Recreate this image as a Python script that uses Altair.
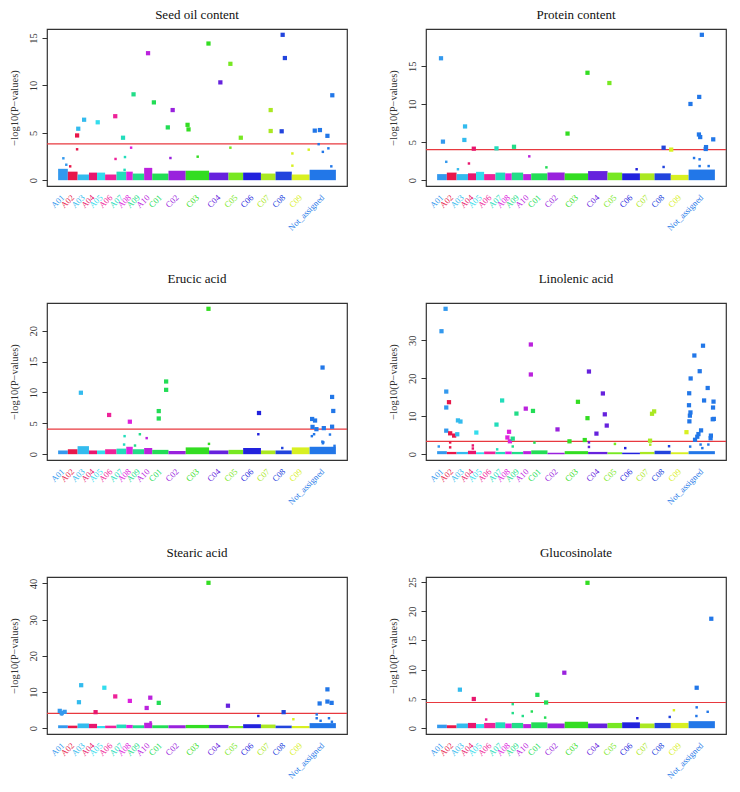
import altair as alt
import pandas as pd

SERIF = "Liberation Serif"

CHROMS = ["A01", "A02", "A03", "A04", "A05", "A06", "A07", "A08", "A09", "A10",
          "C01", "C02", "C03", "C04", "C05", "C06", "C07", "C08", "C09", "Not_assigned"]
CHROM_LEN = [10, 10, 11.7, 8.3, 8.3, 11.7, 10, 6.7, 11.7, 8.3,
             16.7, 17.7, 24, 20, 15, 18.3, 15, 16.7, 18.3, 27]
CHROM_COLORS = ["#3399ee", "#e8174a", "#33bbee", "#e8176e", "#33dded", "#ee2299",
                "#22ddbb", "#dd22dd", "#22dd88", "#bb22dd", "#22dd55", "#9922dd",
                "#33dd22", "#6622dd", "#77e822", "#2222dd", "#aae822", "#2244dd",
                "#d8f022", "#2277e8"]

# ---------- Seed oil content ----------
OIL_SIG = [("A02", 19.5, 4.72), ("A03", 20.7, 5.43), ("A03", 26.7, 6.38), ("A05", 40.7, 6.11),
           ("A06", 58.7, 6.75), ("A07", 66.7, 4.48), ("A09", 77.5, 9.06), ("A10", 92.4, 13.4),
           ("C01", 98.4, 8.21), ("C01", 112.7, 5.57), ("C02", 117.7, 7.40), ("C03", 133.0, 5.84),
           ("C03", 134.0, 5.36), ("C03", 154.5, 14.42), ("C04", 166.7, 10.32), ("C05", 177.0, 12.28),
           ("C05", 187.7, 4.48), ("C07", 218.4, 7.40), ("C07", 218.4, 5.19), ("C08", 229.7, 5.16),
           ("C08", 230.7, 15.34), ("C08", 233.0, 12.89), ("Not_assigned", 263.7, 5.23),
           ("Not_assigned", 269.0, 5.29), ("Not_assigned", 276.7, 4.68), ("Not_assigned", 281.7, 8.96)]
OIL_MINOR = [("A01", 5.4, 2.31), ("A01", 8.4, 1.63), ("A02", 12.4, 1.46), ("A02", 19.5, 3.26),
             ("A06", 59.0, 2.24), ("A07", 68.7, 2.44), ("A07", 68.3, 1.09), ("A08", 75.0, 3.43),
             ("C02", 115.4, 2.34), ("C03", 143.4, 2.48), ("C05", 177.0, 3.43), ("C09", 240.7, 2.82),
             ("C09", 240.7, 1.53), ("C09", 257.5, 3.22), ("Not_assigned", 267.7, 3.80),
             ("Not_assigned", 272.0, 2.99), ("Not_assigned", 277.7, 3.36), ("Not_assigned", 280.7, 1.46)]
OIL_BAND = [1.2, 0.9, 0.6, 0.8, 0.8, 0.6, 0.9, 0.9, 0.7, 1.3, 0.7, 1.0, 1.0, 0.8, 0.8, 0.8, 0.7, 0.9, 0.6, 1.1]
OIL_THRESHOLD = 3.83
OIL_TICKS = [0, 5, 10, 15]

# ---------- Protein content ----------
PROT_SIG = [("A01", 4.0, 16.06), ("A01", 6.0, 5.08), ("A03", 28.7, 7.08), ("A03", 28.0, 5.30),
            ("A04", 37.7, 4.15), ("A07", 61.0, 4.19), ("A09", 79.0, 4.40), ("C03", 134.0, 6.14),
            ("C03", 154.5, 14.15), ("C05", 177.0, 12.80), ("C08", 232.7, 4.28), ("C09", 240.5, 4.03),
            ("Not_assigned", 260.3, 10.04), ("Not_assigned", 269.3, 10.97), ("Not_assigned", 272.0, 19.15),
            ("Not_assigned", 269.0, 6.02), ("Not_assigned", 270.3, 5.68), ("Not_assigned", 276.3, 4.36),
            ("Not_assigned", 276.0, 4.11), ("Not_assigned", 283.7, 5.38)]
PROT_MINOR = [("A01", 9.4, 2.42), ("A03", 21.4, 1.44), ("A04", 32.7, 2.20), ("A10", 94.7, 3.14),
              ("C01", 112.3, 1.69), ("C06", 205.0, 1.44), ("C08", 232.7, 1.74), ("Not_assigned", 264.0, 2.92),
              ("Not_assigned", 269.7, 2.75), ("Not_assigned", 269.7, 1.86), ("Not_assigned", 279.0, 1.86)]
PROT_BAND = [0.8, 1.0, 0.8, 0.9, 1.1, 0.8, 1.0, 0.9, 1.0, 0.8, 0.9, 1.0, 0.9, 1.2, 1.0, 0.9, 0.9, 0.9, 0.7, 1.4]
PROT_THRESHOLD = 4.02
PROT_TICKS = [0, 5, 10, 15]

# ---------- Erucic acid ----------
ERU_SIG = [("A03", 23.4, 9.95), ("A06", 52.4, 6.35), ("A08", 73.7, 5.26), ("C01", 103.4, 6.98),
           ("C01", 103.4, 5.78), ("C01", 111.0, 11.77), ("C01", 111.0, 10.42), ("C03", 154.5, 23.54),
           ("C06", 206.4, 6.67), ("Not_assigned", 261.0, 5.70), ("Not_assigned", 264.0, 5.45),
           ("Not_assigned", 261.4, 4.42), ("Not_assigned", 265.4, 4.05), ("Not_assigned", 271.7, 14.03),
           ("Not_assigned", 273.0, 4.22), ("Not_assigned", 281.5, 9.27), ("Not_assigned", 282.7, 7.00),
           ("Not_assigned", 281.5, 4.45)]
ERU_MINOR = [("A07", 68.3, 2.92), ("A07", 67.8, 1.56), ("A09", 84.0, 3.23), ("A09", 79.0, 1.40),
             ("A10", 91.0, 2.60), ("C03", 155.0, 1.67), ("C06", 205.7, 3.23), ("C08", 230.3, 1.00),
             ("Not_assigned", 260.7, 2.92), ("Not_assigned", 263.0, 3.23), ("Not_assigned", 272.0, 1.77),
             ("Not_assigned", 271.5, 2.03), ("Not_assigned", 279.3, 3.18), ("Not_assigned", 284.0, 1.35),
             ("Not_assigned", 272.5, 1.92)]
ERU_BAND = [0.6, 0.8, 1.3, 0.6, 0.6, 0.8, 0.9, 1.2, 0.8, 1.0, 0.7, 0.5, 1.1, 0.6, 0.7, 1.0, 0.6, 0.6, 1.1, 1.2]
ERU_THRESHOLD = 4.06
ERU_TICKS = [0, 5, 10, 15, 20]

# ---------- Linolenic acid ----------
LIN_SIG = [("A01", 4.5, 32.4), ("A01", 8.7, 38.3), ("A01", 9.4, 16.5), ("A01", 9.4, 12.3), ("A01", 9.4, 6.2),
           ("A02", 12.2, 13.7), ("A02", 13.4, 5.5), ("A02", 17.5, 4.9), ("A03", 20.7, 5.25), ("A03", 21.4, 8.9),
           ("A03", 24.0, 8.6), ("A05", 40.3, 5.7), ("A07", 61.0, 7.8), ("A07", 66.8, 14.15), ("A08", 73.9, 5.9),
           ("A08", 72.2, 4.4), ("A08", 74.8, 3.4), ("A09", 77.7, 4.1), ("A09", 81.5, 10.7), ("A10", 91.1, 12.0),
           ("A10", 96.3, 28.9), ("A10", 96.3, 21.0), ("C01", 98.5, 11.4), ("C02", 123.7, 6.53),
           ("C03", 136.0, 3.39), ("C03", 144.7, 13.8), ("C03", 151.7, 3.73), ("C03", 154.5, 9.49),
           ("C04", 156.0, 21.78), ("C04", 163.7, 5.42), ("C04", 170.3, 16.0), ("C04", 172.3, 10.5),
           ("C04", 174.3, 7.54), ("C07", 218.8, 3.56), ("C07", 220.8, 10.65), ("C07", 223.0, 11.27),
           ("C09", 256.2, 5.8), ("Not_assigned", 258.8, 12.9), ("Not_assigned", 259.0, 16.05),
           ("Not_assigned", 259.7, 10.15), ("Not_assigned", 260.3, 11.0), ("Not_assigned", 259.2, 8.65),
           ("Not_assigned", 260.5, 19.95), ("Not_assigned", 264.3, 26.0), ("Not_assigned", 265.0, 3.8),
           ("Not_assigned", 267.3, 4.6), ("Not_assigned", 268.5, 5.3), ("Not_assigned", 271.2, 6.27),
           ("Not_assigned", 269.8, 21.86), ("Not_assigned", 273.2, 28.58), ("Not_assigned", 274.3, 14.15),
           ("Not_assigned", 278.0, 17.44), ("Not_assigned", 281.0, 4.2), ("Not_assigned", 281.3, 4.9),
           ("Not_assigned", 283.5, 12.29), ("Not_assigned", 284.0, 13.85), ("Not_assigned", 284.3, 9.3),
           ("Not_assigned", 283.2, 9.2)]
LIN_MINOR = [("A01", 1.7, 2.03), ("A02", 13.4, 3.1), ("A02", 13.4, 1.8), ("A04", 36.7, 2.3), ("A04", 36.7, 1.5),
             ("A07", 61.7, 1.27), ("A09", 77.7, 2.03), ("C01", 100.0, 3.05), ("C04", 156.0, 3.1),
             ("C04", 156.0, 1.9), ("C05", 182.7, 2.7), ("C06", 193.3, 1.6), ("C07", 219.0, 2.5),
             ("C08", 238.3, 2.1), ("Not_assigned", 270.7, 2.54), ("Not_assigned", 278.7, 2.54),
             ("Not_assigned", 260.0, 2.0), ("Not_assigned", 272.5, 1.6)]
LIN_BAND = [0.8, 0.6, 0.6, 0.9, 0.5, 0.7, 0.6, 0.7, 0.6, 0.8, 1.0, 0.4, 0.8, 0.6, 0.5, 0.4, 0.6, 0.9, 0.5, 0.8]
LIN_THRESHOLD = 3.39
LIN_TICKS = [0, 10, 20, 30]

# ---------- Stearic acid ----------
STE_SIG = [("A01", 1.7, 4.79), ("A01", 3.7, 4.17), ("A01", 6.7, 4.52), ("A03", 21.4, 7.18), ("A03", 23.7, 11.88),
           ("A04", 38.5, 4.43), ("A05", 47.5, 11.18), ("A06", 58.7, 8.78), ("A08", 73.7, 7.54), ("A10", 91.0, 5.59),
           ("A10", 94.7, 8.43), ("C01", 103.4, 7.00), ("C03", 154.5, 40.18), ("C04", 174.5, 6.21),
           ("C08", 231.7, 4.43), ("Not_assigned", 268.7, 6.83), ("Not_assigned", 276.7, 10.73),
           ("Not_assigned", 276.7, 7.36), ("Not_assigned", 281.0, 7.00)]
STE_MINOR = [("A01", 3.7, 3.8), ("A10", 95.0, 1.6), ("C06", 205.7, 3.37), ("C09", 241.7, 2.48),
             ("Not_assigned", 265.7, 3.8), ("Not_assigned", 265.7, 2.75), ("Not_assigned", 269.7, 2.04),
             ("Not_assigned", 278.3, 2.75), ("Not_assigned", 281.3, 1.77)]
STE_BAND = [0.8, 0.7, 1.3, 1.2, 0.6, 0.7, 1.0, 0.9, 0.8, 1.5, 0.8, 0.8, 0.9, 0.9, 0.6, 1.1, 1.0, 0.7, 0.6, 1.4]
STE_THRESHOLD = 4.08
STE_TICKS = [0, 10, 20, 30, 40]

# ---------- Glucosinolate ----------
GLU_SIG = [("A03", 23.4, 6.58), ("A04", 37.7, 4.99), ("C01", 103.0, 5.70), ("C01", 112.0, 4.39),
           ("C02", 130.7, 9.48), ("C03", 154.5, 24.84), ("Not_assigned", 266.7, 6.91), ("Not_assigned", 281.7, 18.70)]
GLU_MINOR = [("A09", 77.7, 4.11), ("A09", 77.7, 2.58), ("A09", 88.0, 2.08), ("C01", 97.3, 2.85),
             ("C01", 111.0, 1.81), ("A06", 50.4, 1.48), ("C06", 205.7, 1.70), ("C08", 239.0, 1.92),
             ("C09", 243.3, 3.07), ("Not_assigned", 266.7, 3.56), ("Not_assigned", 266.4, 2.08),
             ("Not_assigned", 278.0, 2.80)]
GLU_BAND = [0.6, 0.5, 0.8, 0.9, 0.7, 0.9, 1.0, 0.8, 0.9, 0.7, 1.0, 0.8, 1.1, 0.8, 0.9, 1.0, 0.8, 0.9, 0.9, 1.2]
GLU_THRESHOLD = 4.39
GLU_TICKS = [0, 5, 10, 15, 20, 25]

W, H = 300, 157
RED = "#e8393f"

starts = []
acc = 0.0
for L in CHROM_LEN:
    starts.append(acc)
    acc += L
TOTAL = acc
ends = [s + L for s, L in zip(starts, CHROM_LEN)]
centers = [s + L / 2 for s, L in zip(starts, CHROM_LEN)]


def panel(title, sig, minor, band, thr, ticks, title_offset):
    ymax = max([v for _, _, v in sig] + [v for _, _, v in minor] + [thr])
    xs = alt.Scale(domain=[-0.04 * TOTAL, 1.04 * TOTAL], nice=False, zero=False)
    ys = alt.Scale(domain=[-0.04 * ymax, 1.04 * ymax], nice=False, zero=False)
    cs = alt.Scale(domain=CHROMS, range=CHROM_COLORS)
    yaxis = alt.Axis(values=ticks, title="\u2212log10(P\u2212values)")
    col = alt.Color("chrom:N", scale=cs, legend=None)

    band_df = pd.DataFrame({"chrom": CHROMS, "start": starts, "end": ends,
                            "h": band, "base": [0] * len(CHROMS)})
    sig_df = pd.DataFrame(sig, columns=["chrom", "pos", "y"])
    minor_df = pd.DataFrame(minor, columns=["chrom", "pos", "y"])
    lab_df = pd.DataFrame({"chrom": CHROMS, "center": centers})
    thr_df = pd.DataFrame({"y": [thr]})

    bands = alt.Chart(band_df).mark_rect().encode(
        x=alt.X("start:Q", scale=xs, axis=None), x2="end:Q",
        y=alt.Y("base:Q", scale=ys, axis=yaxis), y2="h:Q", color=col)
    rule = alt.Chart(thr_df).mark_rule(color=RED, strokeWidth=1.2).encode(
        y=alt.Y("y:Q", scale=ys, axis=yaxis))
    minor_pts = alt.Chart(minor_df).mark_square(size=6, opacity=1).encode(
        x=alt.X("pos:Q", scale=xs, axis=None),
        y=alt.Y("y:Q", scale=ys, axis=yaxis), color=col)
    sig_pts = alt.Chart(sig_df).mark_square(size=18, opacity=1).encode(
        x=alt.X("pos:Q", scale=xs, axis=None),
        y=alt.Y("y:Q", scale=ys, axis=yaxis), color=col)
    labels = alt.Chart(lab_df).mark_text(angle=315, align="right", baseline="middle",
                                         fontSize=8.6, font=SERIF).encode(
        x=alt.X("center:Q", scale=xs, axis=None), y=alt.value(H + 10),
        text="chrom:N", color=col)
    return alt.layer(bands, rule, minor_pts, sig_pts, labels).properties(
        width=W, height=H,
        title=alt.TitleParams(title, font=SERIF, fontSize=13, fontWeight="normal",
                              color="#111", offset=title_offset))


p1 = panel("Seed oil content", OIL_SIG, OIL_MINOR, OIL_BAND, OIL_THRESHOLD, OIL_TICKS, 7)
p2 = panel("Protein content", PROT_SIG, PROT_MINOR, PROT_BAND, PROT_THRESHOLD, PROT_TICKS, 7)
p3 = panel("Erucic acid", ERU_SIG, ERU_MINOR, ERU_BAND, ERU_THRESHOLD, ERU_TICKS, 17)
p4 = panel("Linolenic acid", LIN_SIG, LIN_MINOR, LIN_BAND, LIN_THRESHOLD, LIN_TICKS, 17)
p5 = panel("Stearic acid", STE_SIG, STE_MINOR, STE_BAND, STE_THRESHOLD, STE_TICKS, 17)
p6 = panel("Glucosinolate", GLU_SIG, GLU_MINOR, GLU_BAND, GLU_THRESHOLD, GLU_TICKS, 17)

chart = alt.concat(p1, p2, p3, p4, p5, p6, columns=2, spacing={"row": 117, "column": 79},
                   bounds="flush").properties(
    padding={"left": 0, "top": 0, "right": 2, "bottom": 0}
).configure_view(stroke="#333", strokeWidth=1.2).configure_axis(
    labelFont=SERIF, titleFont=SERIF, labelFontSize=10.5, titleFontSize=10.5,
    titleFontWeight="normal", labelColor="#333", titleColor="#333", tickColor="#333",
    tickSize=5, domain=False, grid=False, labelAngle=270, labelPadding=4, titlePadding=9
)

chart.save("out.html", embed_options={"renderer": "svg", "actions": False})
